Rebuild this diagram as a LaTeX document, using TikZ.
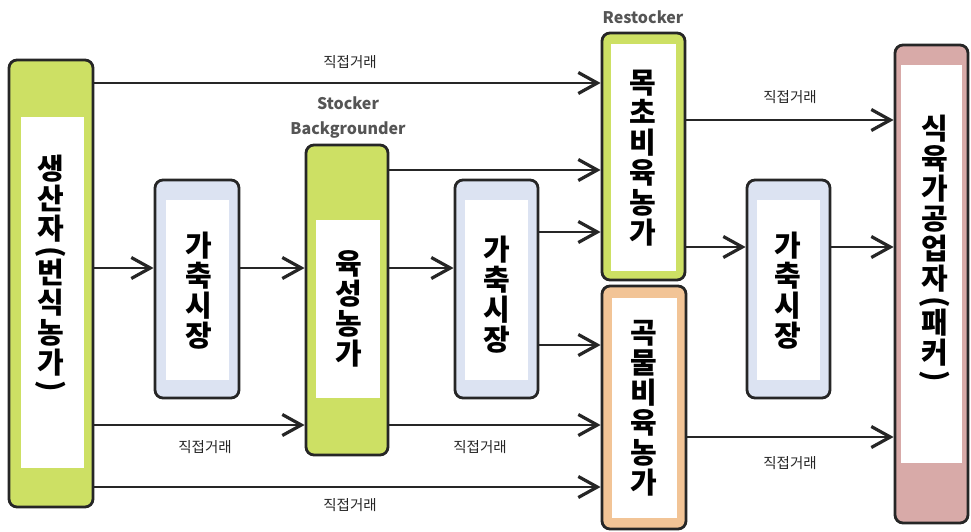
\documentclass[tikz,border=0pt]{standalone}
\usepackage{fontspec}
\usepackage{graphicx}
\usetikzlibrary{arrows.meta}
\newfontfamily\kr{Noto Sans CJK KR}
\definecolor{limec}{RGB}{205,224,100}
\definecolor{tanc}{RGB}{242,196,150}
\definecolor{pinkc}{RGB}{216,170,168}
\definecolor{bluec}{RGB}{220,227,242}
\definecolor{labc}{RGB}{85,85,85}
\newcommand\rp[1]{\rotatebox[origin=c]{-90}{#1}}
\begin{document}
\begin{tikzpicture}[x=1pt,y=-1pt,
  boxbase/.style={draw=black!85,line width=2.8pt,rounded corners=8pt,inner sep=0pt},
  limebox/.style={boxbase,fill=limec},
  tanbox/.style={boxbase,fill=tanc},
  pinkbox/.style={boxbase,fill=pinkc},
  bluebox/.style={boxbase,fill=bluec},
  big/.style={font=\kr\bfseries\fontsize{29}{30}\selectfont,align=center,inner sep=0pt},
  small/.style={font=\kr\fontsize{14.5}{16}\selectfont,text=black!85},
  tag/.style={font=\kr\bfseries\fontsize{16}{25}\selectfont,text=labc,align=center},
  arr/.style={line width=2.8pt,draw=black!85,-{Straight Barb[length=19pt,width=21pt,line width=3.2pt]}}
]
\useasboundingbox (0,0) rectangle (971,532);
% boxes
\node[limebox,minimum width=84pt,minimum height=447pt] (gen) at (51,283.5) {};
\fill[white] (21,117) rectangle (84,468);
\node[bluebox,minimum width=84pt,minimum height=218pt] (m1) at (197,289) {};
\fill[white] (166,200) rectangle (229,380);
\node[limebox,minimum width=82pt,minimum height=310pt] (grow) at (347,300) {};
\fill[white] (316,220) rectangle (380,398);
\node[bluebox,minimum width=83pt,minimum height=218pt] (m2) at (496.5,289) {};
\fill[white] (465,200) rectangle (528,380);
\node[limebox,minimum width=83pt,minimum height=247pt] (rest) at (643.5,156.5) {};
\fill[white] (611,44) rectangle (676,271);
\node[tanbox,minimum width=84pt,minimum height=243pt] (grain) at (644,407.5) {};
\fill[white] (612,298) rectangle (677,518);
\node[bluebox,minimum width=83pt,minimum height=218pt] (m3) at (788.5,289) {};
\fill[white] (757,200) rectangle (820,380);
\node[pinkbox,minimum width=73pt,minimum height=478pt] (pack) at (931.5,284) {};
\fill[white] (901,65) rectangle (962,463);
% texts
\node[big] (tgen) at (51,275) {생\\산\\자\\[-8pt]\rp{(}\\[-8pt]번\\식\\농\\가\\[-8pt]\rp{)}};
\node[big] (tm1) at (199,291) {가\\축\\시\\장};
\node[big] (tgrow) at (349,309) {육\\성\\농\\가};
\node[big] (tm2) at (497,295) {가\\축\\시\\장};
\node[big] (trest) at (643,158) {목\\초\\비\\육\\농\\가};
\node[big] (tgrain) at (644,408) {곡\\물\\비\\육\\농\\가};
\node[big] (tm3) at (788,291) {가\\축\\시\\장};
\node[big] (tpack) at (935,250) {식\\육\\가\\공\\업\\자\\[-8pt]\rp{(}\\[-8pt]패\\커\\[-8pt]\rp{)}};
% tags
\node[tag] (tagst) at (348,118) {Stocker\\Backgrounder};
\node[tag] (tagre) at (643,17) {Restocker};
% arrows
\draw[arr] (gen.east |- 0,83) -- (rest.west |- 0,83);
\draw[arr] (gen.east |- 0,268) -- (m1.west |- 0,268);
\draw[arr] (gen.east |- 0,425) -- (grow.west |- 0,425);
\draw[arr] (gen.east |- 0,487) -- (grain.west |- 0,487);
\draw[arr] (m1.east |- 0,268) -- (grow.west |- 0,268);
\draw[arr] (grow.east |- 0,170) -- (rest.west |- 0,170);
\draw[arr] (grow.east |- 0,268) -- (m2.west |- 0,268);
\draw[arr] (grow.east |- 0,425) -- (grain.west |- 0,425);
\draw[arr] (m2.east |- 0,232) -- (rest.west |- 0,232);
\draw[arr] (m2.east |- 0,345) -- (grain.west |- 0,345);
\draw[arr] (rest.east |- 0,120) -- (pack.west |- 0,120);
\draw[arr] (rest.east |- 0,247) -- (m3.west |- 0,247);
\draw[arr] (m3.east |- 0,247) -- (pack.west |- 0,247);
\draw[arr] (grain.east |- 0,437) -- (pack.west |- 0,437);
% labels
\node[small] (l1) at (350,62) {직접거래};
\node[small] (l2) at (205,447) {직접거래};
\node[small] (l3) at (350,505) {직접거래};
\node[small] (l4) at (480,447) {직접거래};
\node[small] (l5) at (790,97) {직접거래};
\node[small] (l6) at (790,463) {직접거래};
\end{tikzpicture}
\end{document}
